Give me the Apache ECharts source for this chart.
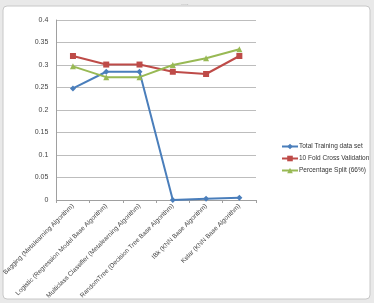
<!DOCTYPE html>
<html><head><meta charset="utf-8">
<script src="https://cdn.jsdelivr.net/npm/echarts@6/dist/echarts.min.js"></script>
<style>html,body{margin:0;padding:0;background:#e9e9e9}#c{width:374px;height:303px}</style>
</head><body><div id="c"></div>
<script>
var categories = ["Bagging (Metalearning Algorithm)","Logistic (Regression Model Base Algorithm)","Multiclass Classifier (Metalearning Algorithm)","RandomTree (Decision Tree Base Algorithm)","IBk (KNN Base Algorithm)","Kstar (KNN Base Algorithm)"];
var totalTraining = [0.248,0.285,0.285,0.0,0.003,0.005];
var tenFold = [0.320,0.301,0.301,0.285,0.280,0.320];
var pctSplit = [0.297,0.273,0.273,0.300,0.315,0.335];
var seriesNames = ["Total Training data set","10 Fold Cross Validation","Percentage Split (66%)"];

var chart = echarts.init(document.getElementById('c'), null, {renderer:'canvas'});
function mk(name, data, color, symbol, size){
  return {name:name,type:'line',data:data,symbol:symbol,symbolSize:size,
    lineStyle:{color:color,width:2},itemStyle:{color:color},z:3};
}
chart.setOption({
  animation:false,
  backgroundColor:'#e9e9e9',
  graphic:[
    {type:'rect',shape:{x:3,y:6,width:367,height:293,r:4},style:{fill:'#ffffff',stroke:'#c8c8c8',lineWidth:1},z:-10},
    {type:'text',left:181,top:0,style:{text:'....',fill:'#aaa',fontSize:7}}
  ],
  grid:{left:55,right:118,top:20,bottom:103},
  legend:{orient:'vertical',left:276,top:138,itemGap:5,itemWidth:16,itemHeight:7,
    textStyle:{fontSize:6.5,color:'#333',fontFamily:'Liberation Sans',padding:[0,0,0,-4]},data:seriesNames},
  xAxis:{type:'category',data:categories,boundaryGap:true,
    axisLine:{lineStyle:{color:'#a0a0a0'}},
    axisTick:{show:true,length:3,lineStyle:{color:'#a0a0a0'}},
    axisLabel:{rotate:45,interval:0,fontSize:6.5,color:'#444',margin:5,fontFamily:'Liberation Sans'}},
  yAxis:{type:'value',min:0,max:0.4,interval:0.05,
    axisLine:{show:true,lineStyle:{color:'#a0a0a0'}},
    axisTick:{show:false},
    splitLine:{lineStyle:{color:'#bdbdbd'}},
    axisLabel:{fontSize:7,color:'#444',margin:8,fontFamily:'Liberation Sans'}},
  series:[
    mk(seriesNames[0],totalTraining,'#4a7ebb','diamond',6),
    mk(seriesNames[1],tenFold,'#be4b48','rect',6),
    mk(seriesNames[2],pctSplit,'#98b954','triangle',6)
  ]
});
</script></body></html>
